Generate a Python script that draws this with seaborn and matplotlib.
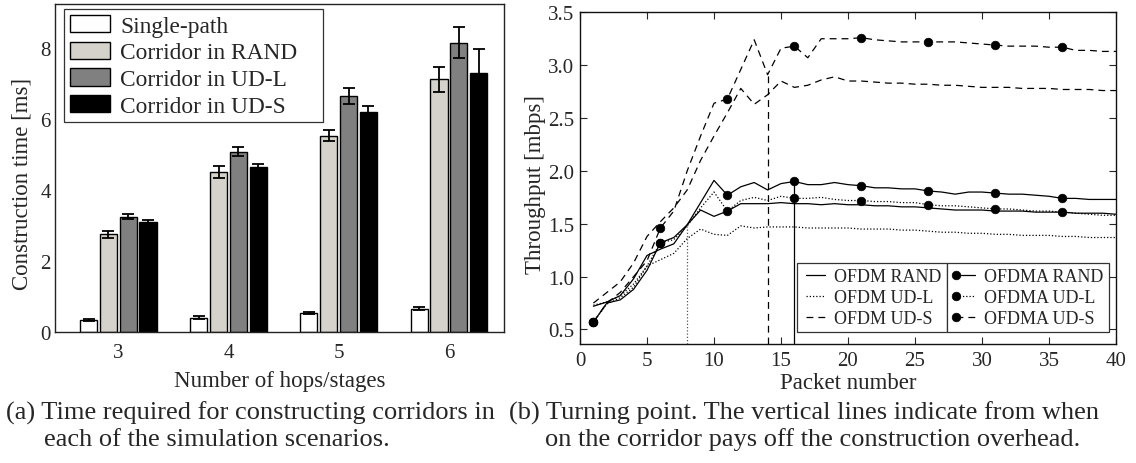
import numpy as np
import pandas as pd
import matplotlib
matplotlib.use("Agg")
import matplotlib.pyplot as plt
import seaborn as sns
from matplotlib.legend_handler import HandlerLine2D
from matplotlib.lines import Line2D
from matplotlib.patches import Rectangle

# ---------------- data: panel (a) ----------------
hops = ["3", "4", "5", "6"]
scenarios = ["Single-path", "Corridor in RAND", "Corridor in UD-L", "Corridor in UD-S"]
single_path = [0.32, 0.40, 0.53, 0.65]
corr_rand = [2.75, 4.51, 5.53, 7.12]
corr_udl = [3.24, 5.08, 6.66, 8.16]
corr_uds = [3.10, 4.64, 6.19, 7.29]
err_single = [0.03, 0.03, 0.03, 0.04]
err_rand = [0.10, 0.18, 0.16, 0.35]
err_udl = [0.07, 0.13, 0.23, 0.43]
err_uds = [0.06, 0.10, 0.19, 0.69]
bar_colors = ["#ffffff", "#d6d2cb", "#808080", "#000000"]

# ---------------- data: panel (b) ----------------
packets = list(range(1, 41))
ofdm_rand = [0.72, 0.76, 0.82, 0.98, 1.20, 1.26, 1.31, 1.49, 1.63, 1.57,
             1.62, 1.69, 1.69, 1.69, 1.70, 1.69, 1.69, 1.68, 1.69, 1.68,
             1.68, 1.67, 1.67, 1.66, 1.66, 1.65, 1.64, 1.63, 1.63, 1.63,
             1.62, 1.62, 1.62, 1.61, 1.61, 1.61, 1.60, 1.60, 1.60, 1.59]
ofdm_udl = [0.73, 0.76, 0.82, 0.93, 1.10, 1.16, 1.22, 1.36, 1.45, 1.40,
            1.39, 1.48, 1.46, 1.47, 1.47, 1.47, 1.46, 1.46, 1.46, 1.46,
            1.45, 1.45, 1.45, 1.44, 1.44, 1.43, 1.42, 1.42, 1.41, 1.41,
            1.40, 1.40, 1.39, 1.39, 1.39, 1.38, 1.38, 1.37, 1.37, 1.37]
ofdm_uds = [0.75, 0.85, 0.95, 1.13, 1.38, 1.52, 1.65, 1.82, 2.10, 2.33,
            2.55, 2.78, 2.63, 2.72, 2.85, 2.79, 2.81, 2.86, 2.89, 2.85,
            2.85, 2.84, 2.83, 2.83, 2.82, 2.82, 2.81, 2.81, 2.80, 2.79,
            2.79, 2.79, 2.78, 2.78, 2.78, 2.77, 2.77, 2.77, 2.76, 2.76]
ofdma_rand = [0.57, 0.75, 0.78, 0.88, 1.06, 1.32, 1.37, 1.49, 1.70, 1.91,
              1.77, 1.85, 1.89, 1.82, 1.88, 1.90, 1.87, 1.87, 1.89, 1.87,
              1.86, 1.84, 1.84, 1.83, 1.83, 1.81, 1.80, 1.78, 1.80, 1.80,
              1.79, 1.78, 1.78, 1.77, 1.76, 1.74, 1.74, 1.73, 1.73, 1.73]
ofdma_udl = [0.57, 0.74, 0.80, 0.90, 1.10, 1.32, 1.35, 1.48, 1.65, 1.80,
             1.62, 1.72, 1.75, 1.72, 1.76, 1.74, 1.74, 1.75, 1.73, 1.72,
             1.72, 1.71, 1.71, 1.70, 1.70, 1.68, 1.67, 1.67, 1.66, 1.65,
             1.64, 1.64, 1.63, 1.62, 1.62, 1.61, 1.60, 1.59, 1.58, 1.58]
ofdma_uds = [0.57, 0.75, 0.85, 1.00, 1.15, 1.46, 1.62, 2.00, 2.33, 2.64,
             2.68, 2.96, 3.24, 2.91, 3.16, 3.18, 3.07, 3.25, 3.25, 3.25,
             3.26, 3.24, 3.23, 3.22, 3.22, 3.22, 3.22, 3.22, 3.21, 3.20,
             3.19, 3.18, 3.18, 3.18, 3.17, 3.17, 3.14, 3.14, 3.13, 3.13]
turning_points = [8, 14, 16]   # packet numbers of the vertical lines

caption_a = ["(a) Time required for constructing corridors in",
             "each of the simulation scenarios."]
caption_b = ["(b) Turning point. The vertical lines indicate from when",
             "on the corridor pays off the construction overhead."]

# ---------------- style ----------------
sns.set_theme(style="white")
plt.rcParams["font.family"] = ["Liberation Serif", "DejaVu Serif"]
plt.rcParams["axes.edgecolor"] = "#111111"
plt.rcParams["axes.linewidth"] = 1.0

W, H = 1136, 464
fig = plt.figure(figsize=(W / 100, H / 100), dpi=100)


def px_axes(left, top, right, bottom):
    return fig.add_axes([left / W, 1 - bottom / H, (right - left) / W, (bottom - top) / H])


TICK_FS = 15
LABEL_FS = 16.5

# ---------------- panel (a) ----------------
axa = px_axes(55, 5, 504, 332.7)
df_a = pd.DataFrame({
    "hops": np.repeat(hops, 4),
    "scenario": scenarios * 4,
    "time": [v for grp in zip(single_path, corr_rand, corr_udl, corr_uds) for v in grp],
})
sns.barplot(data=df_a, x="hops", y="time", hue="scenario", hue_order=scenarios,
            order=hops, palette=bar_colors, errorbar=None, width=0.72, gap=0.14,
            edgecolor="black", linewidth=1.0, ax=axa)
errs = [err_single, err_rand, err_udl, err_uds]
for cont, err in zip(axa.containers, errs):
    xs = [p.get_x() + p.get_width() / 2 for p in cont.patches]
    ys = [p.get_height() for p in cont.patches]
    axa.errorbar(xs, ys, yerr=err, fmt="none", ecolor="black", elinewidth=1.3,
                 capsize=4.5, capthick=1.3, zorder=5)
axa.set_xlim(-0.574, 3.5)
axa.set_ylim(0, 9.25)
axa.set_yticks([0, 2, 4, 6, 8])
axa.tick_params(axis="both", labelsize=TICK_FS, length=0)
axa.tick_params(axis="y", pad=3)
axa.tick_params(axis="x", pad=8)
axa.set_xlabel("Number of hops/stages", fontsize=LABEL_FS)
axa.set_ylabel("Construction time [ms]", fontsize=LABEL_FS)
axa.xaxis.label.set_va("center")
axa.xaxis.set_label_coords(0.5, (332.7 - 382) / 327.7)
axa.yaxis.label.set_va("center")
axa.yaxis.set_label_coords((22 - 55) / 449, (332.7 - 183.5) / 327.7)
for s in axa.spines.values():
    s.set_visible(True)
    s.set_linewidth(1.0)
    s.set_color("#222222")
leg_a = axa.legend(loc="upper left", bbox_to_anchor=(64 / W, 1 - 10 / H),
                   bbox_transform=fig.transFigure, borderaxespad=0,
                   fontsize=16.8, frameon=False, handlelength=1.7, handleheight=0.75,
                   handletextpad=0.45, labelspacing=0.22, borderpad=0.25, title=None)
# legend frame with the reference's extra right padding
fig.add_artist(Rectangle((64 / W, 1 - 122.7 / H), (322.7 - 64) / W, (122.7 - 10) / H,
                         transform=fig.transFigure, fill=False, edgecolor="#333333",
                         linewidth=0.9, zorder=10))

# ---------------- panel (b) ----------------
axb = px_axes(580, 13.3, 1116, 345.3)
dotted = (0, (1, 1.6))
dashed = (0, (5.5, 4))
series_b = [
    ("OFDM RAND", ofdm_rand, "-", None),
    ("OFDM UD-L", ofdm_udl, dotted, None),
    ("OFDM UD-S", ofdm_uds, dashed, None),
    ("OFDMA RAND", ofdma_rand, "-", "o"),
    ("OFDMA UD-L", ofdma_udl, dotted, "o"),
    ("OFDMA UD-S", ofdma_uds, dashed, "o"),
]
for name, vals, ls, mk in series_b:
    kw = dict(marker=mk, markevery=5, markersize=6.2, markeredgecolor="black",
              markerfacecolor="black", markeredgewidth=0.5) if mk else {}
    sns.lineplot(x=packets, y=vals, ax=axb, color="black", linestyle=ls, lw=0.9,
                 label=name, legend=False, **kw)

YMIN_B = 0.36
tp_vals = [ofdma_udl[turning_points[0] - 1], ofdma_uds[turning_points[1] - 1],
           ofdma_rand[turning_points[2] - 1]]
axb.vlines(turning_points[0], YMIN_B, tp_vals[0], colors="#555555", linestyles=[dotted], lw=0.9)
axb.vlines(turning_points[1], YMIN_B, tp_vals[1], colors="black", linestyles=[dashed], lw=0.9)
axb.vlines(turning_points[2], YMIN_B, tp_vals[2], colors="black", linestyles="solid", lw=0.9)

axb.set_xlim(0, 40)
axb.set_ylim(YMIN_B, 3.5)
axb.set_xticks(range(0, 41, 5))
axb.set_yticks(np.arange(0.5, 3.51, 0.5))
axb.set_yticklabels([f"{v:.1f}" for v in np.arange(0.5, 3.51, 0.5)])
axb.tick_params(axis="both", direction="in", length=5, width=0.8, labelsize=TICK_FS,
                top=True, right=True, bottom=True, left=True)
axb.tick_params(axis="y", pad=4)
axb.tick_params(axis="x", pad=5)
axb.set_xlabel("Packet number", fontsize=LABEL_FS)
axb.set_ylabel("Throughput [mbps]", fontsize=LABEL_FS)
axb.xaxis.label.set_va("center")
axb.xaxis.set_label_coords(0.5, (345.3 - 384) / 332)
axb.yaxis.label.set_va("center")
axb.yaxis.set_label_coords((535 - 580) / 536, (345.3 - 184) / 332)
for s in axb.spines.values():
    s.set_visible(True)
    s.set_linewidth(1.0)
    s.set_color("#111111")


class LeftMarkerHandler(HandlerLine2D):
    def create_artists(self, legend, orig_handle, xdescent, ydescent, width, height,
                       fontsize, trans):
        arts = super().create_artists(legend, orig_handle, xdescent, ydescent, width,
                                      height, fontsize, trans)
        for a in arts:
            if isinstance(a, Line2D) and a.get_marker() not in (None, "None", "", " "):
                a.set_markevery([0])
        return arts


lines_b = axb.get_lines()
handles = {l.get_label(): l for l in lines_b}
names = [s[0] for s in series_b]
anchor = (946.7 / W, 1 - 333.3 / H)
leg_kw = dict(bbox_transform=fig.transFigure, borderaxespad=0, fontsize=13,
              frameon=True, fancybox=False, framealpha=1, edgecolor="#333333",
              handlelength=1.45, handletextpad=0.3, labelspacing=0.22, borderpad=0.3,
              numpoints=2, handler_map={Line2D: LeftMarkerHandler(numpoints=2, marker_pad=0.2)})
leg1 = axb.legend([handles[n] for n in names[:3]], names[:3], loc="lower right",
                  bbox_to_anchor=anchor, **leg_kw)
leg1.get_frame().set_linewidth(0.9)
axb.add_artist(leg1)
leg2 = axb.legend([handles[n] for n in names[3:]], names[3:], loc="lower left",
                  bbox_to_anchor=anchor, **leg_kw)
leg2.get_frame().set_linewidth(0.9)

# ---------------- captions ----------------
CAP_FS = 19
fig.text(6 / W, 1 - 413 / H, caption_a[0], fontsize=CAP_FS, ha="left", va="center")
fig.text(44 / W, 1 - 440 / H, caption_a[1], fontsize=CAP_FS, ha="left", va="center")
fig.text(509 / W, 1 - 413 / H, caption_b[0], fontsize=CAP_FS, ha="left", va="center")
fig.text(545 / W, 1 - 440 / H, caption_b[1], fontsize=CAP_FS, ha="left", va="center")

fig.savefig("out.png", dpi=100)
